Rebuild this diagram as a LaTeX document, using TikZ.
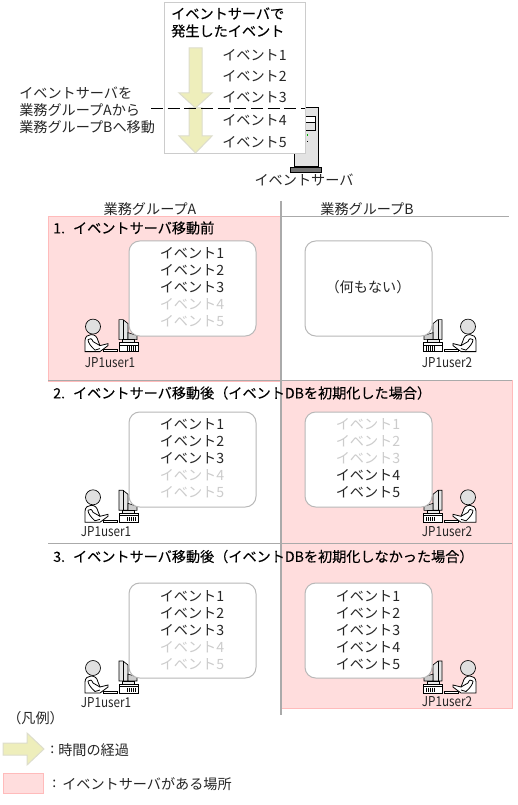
\documentclass[tikz,border=0pt]{standalone}
\usepackage{fontspec}
\setmainfont{Noto Sans CJK JP}
\newfontfamily\titlefont[FakeBold=0.2]{Noto Sans CJK JP}
\newfontfamily\narrowfont[FakeStretch=0.86]{Noto Sans CJK JP}
\definecolor{pinkfill}{HTML}{FFDDDD}
\definecolor{pinkline}{HTML}{FFBBBB}
\definecolor{yelfill}{HTML}{EEEEBB}
\definecolor{yelline}{HTML}{DDDDCC}
\definecolor{sepgrey}{HTML}{AAAAAA}
\definecolor{fadetext}{HTML}{CCCCCC}
\tikzset{
  base text/.style={inner sep=0pt,font=\fontsize{10.6}{12}\selectfont,text=black!85},
  lbl/.style={base text,anchor=center},
  lbll/.style={base text,anchor=west},
  ttl/.style={inner sep=0pt,anchor=west,font=\fontsize{10.6}{12}\selectfont\titlefont,text=black},
  ev/.style={lbl},
  evoff/.style={lbl,text=fadetext},
  ubl/.style={inner sep=0pt,anchor=center,font=\fontsize{10.2}{12}\selectfont\narrowfont,text=black!85},
  pinkzone/.style={fill=pinkfill,draw=pinkline,line width=0.75pt},
  sep/.style={draw=sepgrey,line width=0.75pt},
  vsep/.style={draw=sepgrey,line width=1.5pt},
  evbox/.style={draw=black!28,fill=white,line width=0.75pt,rounded corners=8pt},
  timearrow/.style={fill=yelfill,draw=yelline,line width=0.75pt},
  pics/user/.style={code={
    % computer
    \draw[black,fill=black!10,line width=0.5pt] (26,-7) -- (30,-7) -- (35,-3) -- (35,13) -- (26,13) -- cycle;
    \draw[black,line width=0.5pt] (30,-7) -- (30,13);
    \draw[black,fill=black!20,line width=0.4pt] (35,6) -- (44,9) -- (44,13) -- (35,13) -- cycle;
    \draw[black,fill=black!8,line width=0.5pt] (29,13) rectangle (41,16);
    \draw[black,fill=white,line width=0.5pt] (26,16) rectangle (45,25);
    \draw[black,line width=0.5pt] (26,18.5) -- (45,18.5);
    \foreach \vx in {34,36,38,40,42}{\draw[black,line width=0.5pt] (\vx,19.5) -- (\vx,24);}
    % keyboard
    \draw[black,fill=white,line width=0.5pt] (10,23) rectangle (24,25);
    % person
    \draw[black,fill=black!12,line width=0.5pt] (0,0) circle (7.5);
    \draw[black,fill=white,line width=0.6pt] (-8,25) -- (-8,14) .. controls (-8,10) and (-5,8) .. (-2,8)
       .. controls (2,8) and (4,10) .. (5,14) -- (7,19) -- (15,17) -- (15,19) -- (7,25) -- (2,25) -- (-8,25) -- cycle;
    \draw[black,line width=0.6pt] (-5,13) .. controls (-5,16) and (-2,20) .. (2,23.5) -- (7,22);
    \draw[black,line width=0.6pt] (-5,13) .. controls (-3,11) and (-1,12) .. (0,15) -- (7,19);
  }},
}
\begin{document}
\begin{tikzpicture}[x=0.75pt,y=-0.75pt]
\useasboundingbox (0,0) rectangle (517,805);
% zones
\fill[white] (0,0) rectangle (517,805);
\draw[pinkzone] (48,217) rectangle (280,381);
\draw[pinkzone] (281,380) rectangle (512,543);
\draw[pinkzone] (281,543) rectangle (512,708);
% separators
\coordinate (h1l) at (281,217); \coordinate (h1r) at (509,217);
\coordinate (h2l) at (48,380);  \coordinate (h2r) at (512,380);
\coordinate (h3l) at (48,543);  \coordinate (h3r) at (512,543);
\coordinate (vt) at (280.5,201); \coordinate (vb) at (280.5,715);
\draw[sep] (h1l) -- (h1r);
\draw[sep] (h2l) -- (h2r);
\draw[sep] (h3l) -- (h3r);
\draw[vsep] (vt) -- (vb);
% server
\draw[black,fill=black!11,line width=0.75pt] (294,108) rectangle (318,167);
\draw[black,fill=black!55,line width=0.5pt] (290,167) rectangle (321,172);
\draw[black,fill=white,line width=0.6pt] (304,116) rectangle (315,122);
\draw[black,fill=black!11,line width=0.6pt] (304,122) rectangle (315,130);
\fill[green!70!black] (306.5,134.5) rectangle (308,136);
\fill[black] (306.5,141) rectangle (308,142.5);
% event-list box at top
\draw[draw=black!20,fill=white,line width=0.75pt] (164,3) rectangle (305,154);
\draw[timearrow] (189,108) -- (202,108) -- (202,136) -- (212,136) -- (195.5,153) -- (179,136) -- (189,136) -- cycle;
\draw[timearrow] (189,48) -- (202,48) -- (202,93) -- (212,93) -- (195.5,108) -- (179,93) -- (189,93) -- cycle;
\node[ttl] (toptitle1) at (171,13.5) {イベントサーバで};
\node[ttl] (toptitle2) at (171,31) {発生したイベント};
\node[lbll] (t1) at (222,55) {イベント1};
\node[lbll] (t2) at (222,76) {イベント2};
\node[lbll] (t3) at (222,97) {イベント3};
\node[lbll] (t4) at (222,120) {イベント4};
\node[lbll] (t5) at (222,142) {イベント5};
\coordinate (dashl) at (151,108.5); \coordinate (dashr) at (305,108.5);
\draw[black,line width=0.9pt,dash pattern=on 9pt off 3.5pt] (dashl) -- (dashr);
\node[lbll] (mv1) at (19,93) {イベントサーバを};
\node[lbll] (mv2) at (19,110) {業務グループAから};
\node[lbll] (mv3) at (19,127) {業務グループBへ移動};
\node[lbl] (srv) at (304,180) {イベントサーバ};
% headers
\node[lbl] (ga) at (150,209) {業務グループA};
\node[lbl] (gb) at (367,209) {業務グループB};
% titles
\node[ttl] (r1) at (53,228) {1.\hspace{6pt}イベントサーバ移動前};
\node[ttl] (r2) at (53,393) {2.\hspace{6pt}イベントサーバ移動後（イベントDBを初期化した場合）};
\node[ttl] (r3) at (53,556.5) {3.\hspace{6pt}イベントサーバ移動後（イベントDBを初期化しなかった場合）};
% users
\pic at (93,326.6) {user};
\pic at (93,497.3) {user};
\pic at (93,668) {user};
\pic[xscale=-1] at (468,326.6) {user};
\pic[xscale=-1] at (468,497.3) {user};
\pic[xscale=-1] at (468,668) {user};
\node[ubl] (u1a) at (110,362.5) {JP1user1};
\node[ubl] (u1b) at (106,531.5) {JP1user1};
\node[ubl] (u1c) at (106,703) {JP1user1};
\node[ubl] (u2a) at (447,362.5) {JP1user2};
\node[ubl] (u2b) at (447,531.5) {JP1user2};
\node[ubl] (u2c) at (447,702) {JP1user2};
% event boxes
\draw[evbox] (129,241) rectangle (256,336);
\draw[evbox] (305,241) rectangle (432,336);
\draw[evbox] (129,412) rectangle (256,507);
\draw[evbox] (305,412) rectangle (432,507);
\draw[evbox] (129,583) rectangle (256,678);
\draw[evbox] (305,583) rectangle (432,678);
% row 1
\node[ev] (a11) at (192,253) {イベント1};
\node[ev] (a12) at (192,270) {イベント2};
\node[ev] (a13) at (192,287) {イベント3};
\node[evoff] (a14) at (192,304) {イベント4};
\node[evoff] (a15) at (192,321) {イベント5};
\node[lbl] (none) at (368,287) {（何もない）};
% row 2
\node[ev] (a21) at (192,424) {イベント1};
\node[ev] (a22) at (192,441) {イベント2};
\node[ev] (a23) at (192,458) {イベント3};
\node[evoff] (a24) at (192,475) {イベント4};
\node[evoff] (a25) at (192,492) {イベント5};
\node[evoff] (b21) at (368,424) {イベント1};
\node[evoff] (b22) at (368,441) {イベント2};
\node[evoff] (b23) at (368,458) {イベント3};
\node[ev] (b24) at (368,475) {イベント4};
\node[ev] (b25) at (368,492) {イベント5};
% row 3
\node[ev] (a31) at (192,596) {イベント1};
\node[ev] (a32) at (192,613) {イベント2};
\node[ev] (a33) at (192,630) {イベント3};
\node[evoff] (a34) at (192,647) {イベント4};
\node[evoff] (a35) at (192,664) {イベント5};
\node[ev] (b31) at (368,596) {イベント1};
\node[ev] (b32) at (368,613) {イベント2};
\node[ev] (b33) at (368,630) {イベント3};
\node[ev] (b34) at (368,647) {イベント4};
\node[ev] (b35) at (368,664) {イベント5};
% legend
\node[lbll] (lg) at (7,718) {（凡例）};
\draw[timearrow] (3,743) -- (27,743) -- (27,733) -- (44,749) -- (27,765) -- (27,755) -- (3,755) -- cycle;
\node[lbll] (lg1) at (50,750) {:};
\node[lbll] (lg1t) at (58,750) {時間の経過};
\draw[pinkzone] (3,773) rectangle (43,793);
\node[lbll] (lg2) at (52,784) {:};
\node[lbll] (lg2t) at (62,784) {イベントサーバがある場所};
\end{tikzpicture}
\end{document}
